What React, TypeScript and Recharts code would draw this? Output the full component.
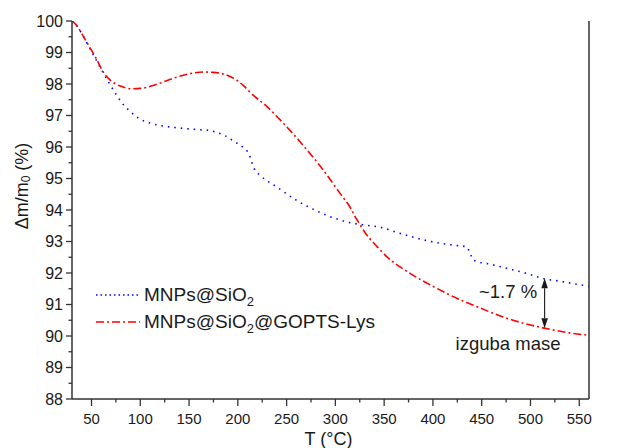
import React from 'react';
import { LineChart, Line, XAxis, YAxis, Legend, ReferenceLine, ReferenceDot } from 'recharts';

const FONT = '"Liberation Sans", Arial, Helvetica, sans-serif';
const INK = '#1a1a1a';
const AXIS = '#333333';
const BLUE = '#0000ff';
const RED = '#ff0000';

const xTicks = [50, 75, 100, 125, 150, 175, 200, 225, 250, 275, 300, 325, 350, 375, 400, 425, 450, 475, 500, 525, 550];
const yTicks = [88, 88.5, 89, 89.5, 90, 90.5, 91, 91.5, 92, 92.5, 93, 93.5, 94, 94.5, 95, 95.5, 96, 96.5, 97, 97.5, 98, 98.5, 99, 99.5, 100];

// MNPs@SiO2 (blue, dotted)
const tSio2 = [30, 35, 40, 48, 55, 62, 69, 75, 81, 90, 98, 110, 119, 135, 148, 160, 170, 177, 186, 197, 205, 210, 213, 215, 217, 223, 240, 259, 283, 312, 333, 345, 367, 401, 422, 435, 437, 439, 442, 460, 477, 500, 511, 530, 554, 560];
const mSio2 = [100.0, 99.85, 99.6, 99.15, 98.75, 98.35, 97.98, 97.68, 97.41, 97.12, 96.92, 96.76, 96.69, 96.62, 96.58, 96.55, 96.53, 96.48, 96.37, 96.16, 96.0, 95.85, 95.65, 95.45, 95.3, 95.1, 94.73, 94.33, 93.94, 93.62, 93.51, 93.46, 93.25, 92.98, 92.88, 92.83, 92.7, 92.56, 92.4, 92.27, 92.14, 91.95, 91.84, 91.74, 91.61, 91.58];

// MNPs@SiO2@GOPTS-Lys (red, dash-dot)
const tLys = [30, 35, 40, 45, 55, 62, 70, 76, 83, 90, 100, 114, 131, 144, 155, 165, 175, 182, 192, 199, 205, 216, 230, 240, 264, 285, 305, 316, 320, 325, 330, 335, 343, 353, 377, 401, 425, 442, 477, 500, 514, 540, 560];
const mLys = [100.0, 99.85, 99.6, 99.33, 98.8, 98.38, 98.1, 97.98, 97.9, 97.85, 97.86, 97.96, 98.15, 98.28, 98.35, 98.38, 98.37, 98.34, 98.24, 98.12, 97.97, 97.64, 97.28, 96.97, 96.16, 95.37, 94.52, 94.04, 93.8, 93.55, 93.3, 93.1, 92.83, 92.51, 91.98, 91.56, 91.19, 90.97, 90.55, 90.35, 90.25, 90.1, 90.02];

// mass loss annotation
const lossT = 514.5;
const lossTop = 91.83;
const lossBottom = 90.25;
const lossText = '~1.7 %';
const lossLabelAt = { t: 477, m: 91.4 };
const noteText = 'izguba mase';
const noteAt = { t: 477, m: 89.77 };

const sio2Data = tSio2.map((t, i) => ({ t, m: mSio2[i] }));
const lysData = tLys.map((t, i) => ({ t, m: mLys[i] }));

function LeftTick({ x, y, payload }: any) {
  const major = Number.isInteger(payload.value);
  return (
    <g>
      <line x1={x} x2={x - (major ? 6 : 3.5)} y1={y} y2={y} stroke={AXIS} strokeWidth={1.3} />
      {major && (
        <text x={x - 9} y={y + 5.7} textAnchor="end" fontSize={16} fill={INK} fontFamily={FONT}>
          {payload.value}
        </text>
      )}
    </g>
  );
}

function RightTick({ x, y, payload }: any) {
  const major = Number.isInteger(payload.value);
  return (
    <g>
      <line x1={x} x2={x + (major ? 7 : 3.5)} y1={y} y2={y} stroke={AXIS} strokeWidth={1.3} />
      {major && (
        <text x={x + 12} y={y + 5.7} textAnchor="start" fontSize={16} fill={INK} fontFamily={FONT}>
          {payload.value}
        </text>
      )}
    </g>
  );
}

function BottomTick({ x, y, payload }: any) {
  const major = payload.value % 50 === 0;
  return (
    <g>
      <line x1={x} x2={x} y1={y} y2={y + (major ? 7 : 3.5)} stroke={AXIS} strokeWidth={1.3} />
      {major && (
        <text x={x} y={y + 25} textAnchor="middle" fontSize={15} fill={INK} fontFamily={FONT}>
          {payload.value}
        </text>
      )}
    </g>
  );
}

function YTitle({ viewBox }: any) {
  const cx = viewBox.x + 22;
  const cy = 186;
  return (
    <text x={cx} y={cy} transform={`rotate(-90, ${cx}, ${cy})`} textAnchor="middle" dominantBaseline="central"
      fontSize={18} fill={INK} fontFamily={FONT}>
      Δm/m<tspan dy={4} fontSize={12}>0</tspan><tspan dy={-4}> (%)</tspan>
    </text>
  );
}

function XTitle({ viewBox }: any) {
  return (
    <text x={viewBox.x + viewBox.width / 2 - 2} y={viewBox.y + 46} textAnchor="middle" fontSize={18} fill={INK} fontFamily={FONT}>
      T (°C)
    </text>
  );
}

function Arrow({ x1, y1, y2 }: any) {
  const top = Math.min(y1, y2);
  const bottom = Math.max(y1, y2);
  const w = 3.3;
  const h = 10;
  return (
    <g>
      <line x1={x1} x2={x1} y1={top + h} y2={bottom - h} stroke={INK} strokeWidth={1.1} />
      <polygon points={`${x1},${top} ${x1 - w},${top + h} ${x1 + w},${top + h}`} fill={INK} />
      <polygon points={`${x1},${bottom} ${x1 - w},${bottom - h} ${x1 + w},${bottom - h}`} fill={INK} />
    </g>
  );
}

function LegendBox() {
  const row = { display: 'flex', alignItems: 'center', height: 26.7, whiteSpace: 'nowrap' as const };
  const sub = { fontSize: 13, verticalAlign: -5, lineHeight: 0 };
  return (
    <div style={{ fontFamily: FONT, fontSize: 19, color: INK, lineHeight: '20px' }}>
      <div style={row}>
        <svg width={44} height={6} style={{ marginRight: 4 }}>
          <line x1={0} x2={44} y1={3} y2={3} stroke={BLUE} strokeWidth={1.5} strokeDasharray="1.5 3" />
        </svg>
        <span>MNPs@SiO<span style={sub}>2</span></span>
      </div>
      <div style={row}>
        <svg width={44} height={6} style={{ marginRight: 4 }}>
          <line x1={0} x2={44} y1={3} y2={3} stroke={RED} strokeWidth={1.5} strokeDasharray="8 3 2 3" />
        </svg>
        <span>MNPs@SiO<span style={sub}>2</span>@GOPTS-Lys</span>
      </div>
    </div>
  );
}

export default function App() {
  return (
    <div style={{ position: 'absolute', left: 0, top: 0, width: 628, height: 448, background: '#fff' }}>
      <LineChart width={628} height={448} margin={{ top: 21, right: 0, bottom: 0, left: 0 }}>
        <XAxis
          xAxisId="b"
          dataKey="t"
          type="number"
          domain={[30, 560]}
          ticks={xTicks}
          interval={0}
          height={49}
          tickSize={0}
          tickMargin={0}
          tickLine={false}
          tick={<BottomTick />}
          axisLine={{ stroke: AXIS, strokeWidth: 1.5 }}
          allowDataOverflow
          label={<XTitle />}
        />
        <XAxis
          xAxisId="top"
          orientation="top"
          type="number"
          domain={[30, 560]}
          height={0}
          tick={false}
          tickLine={false}
          axisLine={{ stroke: AXIS, strokeWidth: 1.5 }}
        />
        <YAxis
          yAxisId="l"
          type="number"
          domain={[88, 100]}
          ticks={yTicks}
          interval={0}
          width={72}
          tickSize={0}
          tickMargin={0}
          tickLine={false}
          tick={<LeftTick />}
          axisLine={{ stroke: AXIS, strokeWidth: 1.5 }}
          allowDataOverflow
          label={<YTitle />}
        />
        <YAxis
          yAxisId="r"
          orientation="right"
          type="number"
          domain={[88, 100]}
          ticks={yTicks}
          interval={0}
          width={39}
          tickSize={0}
          tickMargin={0}
          tickLine={false}
          tick={<RightTick />}
          axisLine={{ stroke: AXIS, strokeWidth: 1.5 }}
        />
        <Legend
          layout="horizontal"
          verticalAlign="middle"
          align="center"
          content={<LegendBox />}
          wrapperStyle={{ left: 96, top: 281.7, width: 'auto', height: 'auto' }}
        />
        <Line
          xAxisId="b"
          yAxisId="l"
          data={sio2Data}
          dataKey="m"
          type="monotone"
          stroke={BLUE}
          strokeWidth={1.6}
          strokeDasharray="1.5 5"
          dot={false}
          activeDot={false}
          isAnimationActive={false}
        />
        <Line
          xAxisId="b"
          yAxisId="l"
          data={lysData}
          dataKey="m"
          type="monotone"
          stroke={RED}
          strokeWidth={1.6}
          strokeDasharray="8 3 2 3"
          dot={false}
          activeDot={false}
          isAnimationActive={false}
        />
        <ReferenceLine
          xAxisId="b"
          yAxisId="l"
          segment={[{ x: lossT, y: lossTop }, { x: lossT, y: lossBottom }]}
          shape={(p: any) => <Arrow {...p} />}
        />
        <ReferenceDot
          xAxisId="b"
          yAxisId="l"
          x={lossLabelAt.t}
          y={lossLabelAt.m}
          shape={(p: any) => (
            <text x={p.cx} y={p.cy + 6.5} textAnchor="middle" fontSize={18.5} fill={INK} fontFamily={FONT}>{lossText}</text>
          )}
        />
        <ReferenceDot
          xAxisId="b"
          yAxisId="l"
          x={noteAt.t}
          y={noteAt.m}
          shape={(p: any) => (
            <text x={p.cx} y={p.cy + 6.5} textAnchor="middle" fontSize={18.5} fill={INK} fontFamily={FONT}>{noteText}</text>
          )}
        />
      </LineChart>
    </div>
  );
}
